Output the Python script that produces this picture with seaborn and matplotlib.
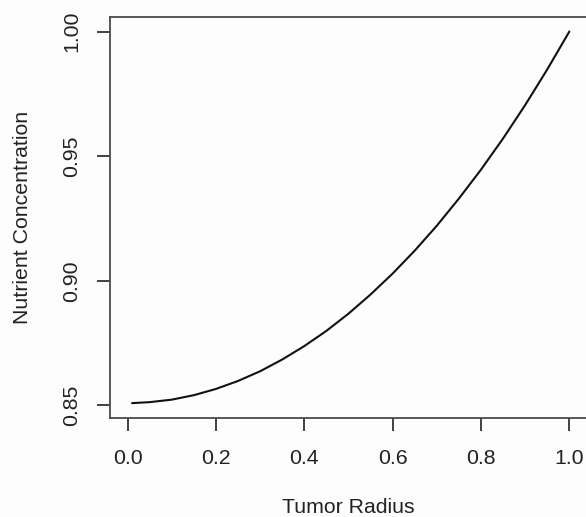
import matplotlib
matplotlib.use("Agg")
import matplotlib.pyplot as plt
import seaborn as sns
import pandas as pd

# Nutrient concentration across the tumor radius
radius = [0.01, 0.05, 0.10, 0.15, 0.20, 0.25, 0.30, 0.35, 0.40, 0.45, 0.50,
          0.55, 0.60, 0.65, 0.70, 0.75, 0.80, 0.85, 0.90, 0.95, 1.00]
concentration = [0.8509, 0.8513, 0.8523, 0.8541, 0.8566, 0.8598, 0.8637, 0.8684,
                 0.8738, 0.8799, 0.8868, 0.8945, 0.9029, 0.9121, 0.9221, 0.9330,
                 0.9446, 0.9571, 0.9705, 0.9848, 1.0000]

x_ticks = [0.0, 0.2, 0.4, 0.6, 0.8, 1.0]
x_tick_labels = ["0.0", "0.2", "0.4", "0.6", "0.8", "1.0"]
y_ticks = [0.85, 0.90, 0.95, 1.00]
y_tick_labels = ["0.85", "0.90", "0.95", "1.00"]

df = pd.DataFrame({"Tumor Radius": radius, "Nutrient Concentration": concentration})

sns.set_theme(style="white")
plt.rcParams["font.family"] = ["Liberation Sans", "DejaVu Sans"]

fig = plt.figure(figsize=(5.86, 5.17), dpi=100, facecolor="#fdfdfd")
ax = fig.add_axes([0.1877, 0.1915, 0.8140, 0.7762])
ax.set_facecolor("#fdfdfd")

sns.lineplot(data=df, x="Tumor Radius", y="Nutrient Concentration",
             color="#111111", linewidth=1.5, ax=ax)

xmin, xmax = 0.0, 1.0
ymin, ymax = min(concentration), max(concentration)
xpad = 0.04 * (xmax - xmin)
ypad = 0.04 * (ymax - ymin)
ax.set_xlim(xmin - xpad, xmax + xpad)
ax.set_ylim(ymin - ypad, ymax + ypad)

ax.set_xticks(x_ticks)
ax.set_xticklabels(x_tick_labels)
ax.set_yticks(y_ticks)
ax.set_yticklabels(y_tick_labels, rotation=90, va="center")

for s in ax.spines.values():
    s.set_color("#4a4a4a")
    s.set_linewidth(1.3)

ax.tick_params(axis="both", which="major", direction="out", length=9.5,
               width=1.3, color="#333333", labelsize=15.3, labelcolor="#222222",
               bottom=True, left=True)
ax.tick_params(axis="x", pad=12.5)
ax.tick_params(axis="y", pad=11)

ax.set_xlabel("Tumor Radius", fontsize=15.3, color="#222222", labelpad=22)
ax.set_ylabel("Nutrient Concentration", fontsize=15.3, color="#222222", labelpad=22)

fig.savefig("out.png", dpi=100, facecolor=fig.get_facecolor())
